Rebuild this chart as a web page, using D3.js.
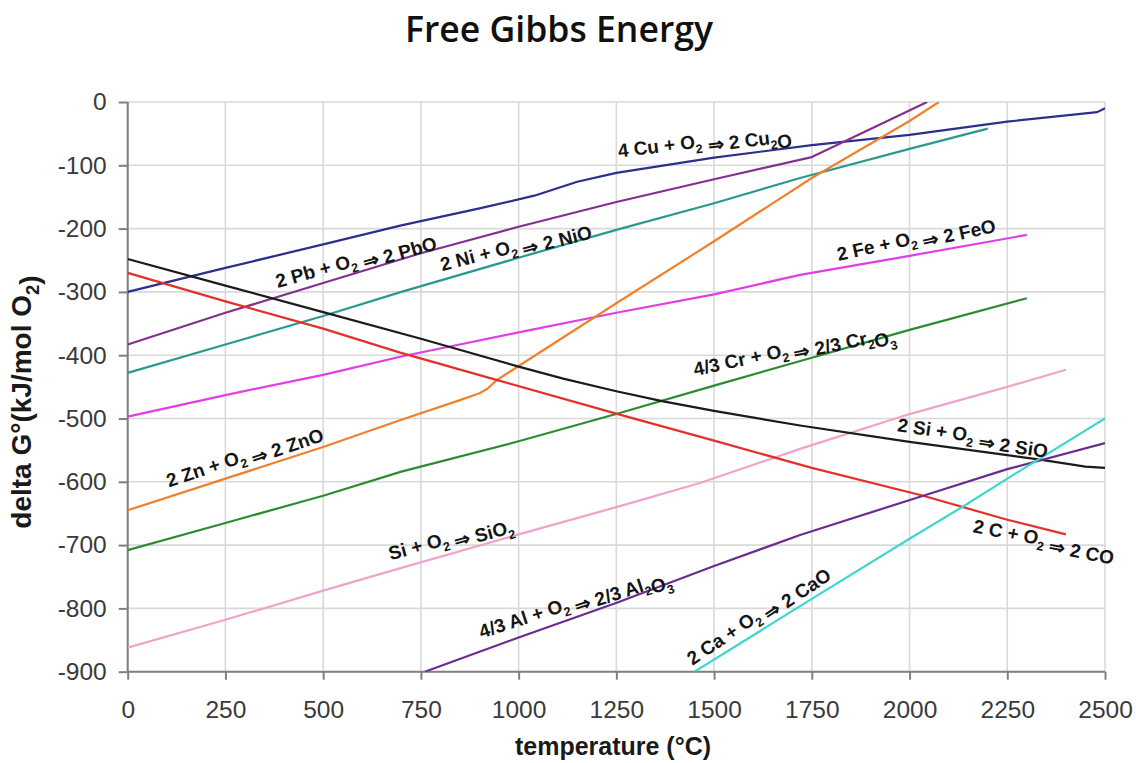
<!DOCTYPE html>
<html><head><meta charset="utf-8">
<script src="https://cdn.jsdelivr.net/npm/d3@7/dist/d3.min.js"></script>
<style>body{margin:0;background:#fff}svg{display:block}</style>
</head><body>
<svg id="chart" width="1136" height="763"></svg>
<script>
// ---- data (temperature °C, delta G° kJ/mol O2) ----
const xTickValues = [0, 250, 500, 750, 1000, 1250, 1500, 1750, 2000, 2250, 2500];
const yTickValues = [0, -100, -200, -300, -400, -500, -600, -700, -800, -900];

const cuData = [[0,-300],[250,-262],[500,-225],[700,-195],[900,-168],[1040,-148],[1150,-126],[1250,-112],[1500,-88],[1750,-68],[2000,-52],[2250,-31],[2450,-18],[2480,-16],[2500,-10]];
const pbData = [[0,-383],[250,-333],[500,-286],[750,-239],[1000,-197],[1250,-158],[1500,-122],[1750,-87],[2045,0]];
const niData = [[0,-428],[250,-383],[500,-338],[700,-300],[1000,-246],[1250,-202],[1500,-160],[1720,-120],[2000,-74],[2200,-42]];
const feData = [[0,-497],[250,-463],[500,-431],[700,-402],[1000,-364],[1250,-333],[1500,-304],[1720,-273],[2000,-243],[2300,-210]];
const znData = [[0,-645],[250,-595],[500,-545],[700,-502],[850,-471],[900,-460],[920,-453],[945,-439],[1250,-318],[1500,-220],[1750,-120],[2000,-30],[2075,0]];
const crData = [[0,-708],[250,-665],[500,-622],[700,-584],[1000,-536],[1254,-492],[1500,-448],[1750,-404],[2000,-360],[2300,-310]];
const sio2Data = [[0,-862],[250,-818],[500,-772],[700,-736],[1000,-683],[1250,-640],[1464,-602],[1720,-548],[2000,-493],[2250,-450],[2400,-423]];
const coData = [[0,-270],[250,-315],[500,-358],[697,-396],[943,-439],[1254,-493],[1500,-535],[1750,-578],[2035,-622],[2250,-660],[2400,-683]];
const sioData = [[0,-248],[250,-290],[500,-332],[750,-374],[1000,-418],[1114,-437],[1250,-457],[1370,-473],[1500,-488],[1720,-511],[2000,-537],[2250,-558],[2334,-565],[2450,-576],[2500,-578]];
const alData = [[760,-900],[1000,-846],[1251,-791],[1500,-733],[1720,-684],[2035,-622],[2250,-580],[2500,-539]];
const caData = [[1450,-900],[1750,-785],[2000,-690],[2137,-639],[2250,-595],[2500,-500]];

const seriesNames = ["4 Cu + O_2 ⇒ 2 Cu_2O","2 Pb + O_2 ⇒ 2 PbO","2 Ni + O_2 ⇒ 2 NiO","2 Fe + O_2 ⇒ 2 FeO","2 Zn + O_2 ⇒ 2 ZnO","4/3 Cr + O_2 ⇒ 2/3 Cr_2O_3","Si + O_2 ⇒ SiO_2","2 C + O_2 ⇒ 2 CO","2 Si + O_2 ⇒ 2 SiO","4/3 Al + O_2 ⇒ 2/3 Al_2O_3","2 Ca + O_2 ⇒ 2 CaO"];
const seriesData = [cuData, pbData, niData, feData, znData, crData, sio2Data, coData, sioData, alData, caData];

// ---- styles / layout ----
const seriesColors = ["#2c2f8c","#83308f","#2a9a8e","#e23ee6","#f0812c","#2e8b34","#f0a3cb","#e5302a","#1b1b1b","#6b2c8f","#3fd6cc"];
// label anchor (data coords, baseline centre) and rotation
const labelAnchors = [[1477,-71,-7],[587,-259,-15.5],[996,-237,-14.4],[2019,-224,-12.3],[303,-568,-18.6],[1707,-399,-12.1],[830,-698,-15],[2341,-701,10.9],[2160,-537,8],[1147,-799,-18],[1620,-818,-33.8]];

const svg = d3.select("#chart");
const x = d3.scaleLinear().domain([0, 2500]).range([127.7, 1105]);
const y = d3.scaleLinear().domain([-900, 0]).range([671.7, 102]);
const tickFont = "'Liberation Sans', Arial, sans-serif";

// grid
svg.append("g").selectAll("line").data(xTickValues).join("line")
  .attr("x1", d => x(d)).attr("x2", d => x(d)).attr("y1", y(0)).attr("y2", y(-900))
  .attr("stroke", "#d9d9d9").attr("stroke-width", 1.6);
svg.append("g").selectAll("line").data(yTickValues).join("line")
  .attr("x1", x(0)).attr("x2", x(2500)).attr("y1", d => y(d)).attr("y2", d => y(d))
  .attr("stroke", "#d9d9d9").attr("stroke-width", 1.6);

// axes
const xAxis = svg.append("g").attr("transform", `translate(0,${y(-900)})`)
  .call(d3.axisBottom(x).tickValues(xTickValues).tickSize(8).tickPadding(21).tickFormat(d3.format("d")));
const yAxis = svg.append("g").attr("transform", `translate(${x(0)},0)`)
  .call(d3.axisLeft(y).tickValues(yTickValues).tickSize(9).tickPadding(12).tickFormat(d => d3.format("d")(d).replace("−","-")));
[xAxis, yAxis].forEach(a => {
  a.select(".domain").attr("stroke", "#808080").attr("stroke-width", 2);
  a.selectAll(".tick line").attr("stroke", "#808080").attr("stroke-width", 2);
  a.selectAll(".tick text").attr("font-family", tickFont).attr("font-size", 24.5).attr("fill", "#3a3a3a");
});
xAxis.select(".domain").attr("d", `M${x(0)},0H${x(2500)}`);
yAxis.select(".domain").attr("d", `M0,${y(-900)}V${y(0)}`);

// lines
svg.append("defs").append("clipPath").attr("id", "plot")
  .append("rect").attr("x", x(0)).attr("y", y(0)).attr("width", x(2500) - x(0)).attr("height", y(-900) - y(0));
const line = d3.line().x(d => x(d[0])).y(d => y(d[1]));
svg.append("g").attr("clip-path", "url(#plot)")
  .selectAll("path").data(seriesData).join("path")
  .attr("d", line).attr("fill", "none")
  .attr("stroke", (d, i) => seriesColors[i]).attr("stroke-width", 2.2)
  .attr("stroke-linejoin", "round");

// text with subscripts
function richText(sel, str, size) {
  const parts = str.split(/_(\d)/);
  const sh = size * 0.28;
  parts.forEach((p, i) => {
    if (p === "") return;
    if (i % 2 === 1) {
      sel.append("tspan").attr("dy", sh).attr("font-size", size * 0.66).text(p);
      sel.append("tspan").attr("dy", -sh).attr("font-size", size).text("");
    } else {
      sel.append("tspan").attr("font-size", size).text(p);
    }
  });
}

// reaction labels
seriesNames.forEach((name, i) => {
  const a = labelAnchors[i];
  const t = svg.append("text")
    .attr("transform", `translate(${x(a[0])},${y(a[1])}) rotate(${a[2]})`)
    .attr("text-anchor", "middle").attr("font-family", tickFont)
    .attr("font-weight", "bold").attr("fill", "#151515");
  richText(t, name, 19);
});

// title
const title = svg.append("text").attr("x", 559).attr("y", 42).attr("text-anchor", "middle")
  .attr("font-family", "'Open Sans', sans-serif").attr("font-weight", 600).attr("font-size", 32)
  .attr("fill", "#111").text("Free Gibbs Energy");
const tw = title.node().getComputedTextLength();
title.attr("font-size", 32 * 308 / tw);

// axis titles
svg.append("text").attr("x", 613).attr("y", 755).attr("text-anchor", "middle")
  .attr("font-family", tickFont).attr("font-weight", "bold").attr("font-size", 25)
  .attr("fill", "#1a1a1a").text("temperature (°C)");
const yl = svg.append("text").attr("transform", "translate(31,402) rotate(-90)")
  .attr("text-anchor", "middle").attr("font-family", tickFont).attr("font-weight", "bold")
  .attr("fill", "#1a1a1a");
richText(yl, "delta G°(kJ/mol O_2)", 28);
</script>
</body></html>
